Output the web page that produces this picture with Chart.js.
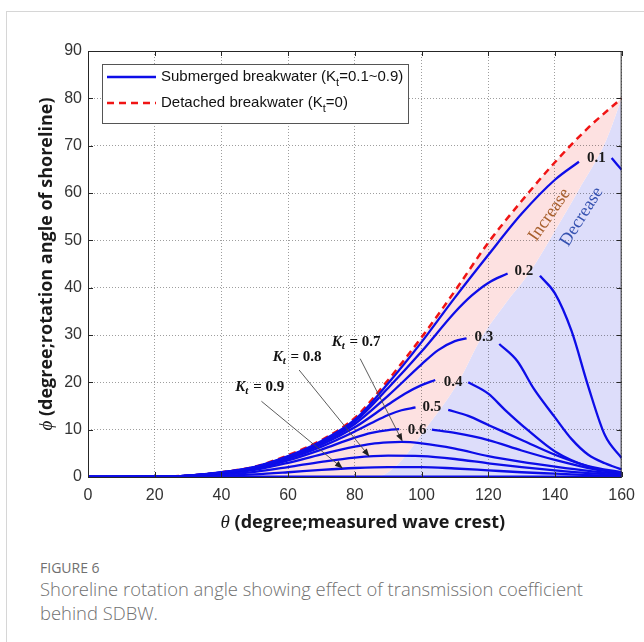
<!DOCTYPE html>
<html>
<head>
<meta charset="utf-8">
<title>Shoreline rotation angle</title>
<script src="https://cdn.jsdelivr.net/npm/chart.js@4.4.1/dist/chart.umd.min.js"></script>
<style>
  body { margin: 0; background: #fff; }
  #card { position: absolute; left: 6px; top: 11px; width: 650px; height: 650px;
          border-left: 1px solid #d6d6d6; border-top: 1px solid #d6d6d6; }
  #wrap { position: absolute; left: 0; top: 0; width: 644px; height: 545px; }
  .cap { position: absolute; left: 40px; font-family: "Open Sans", sans-serif; color: #707070; }
  #figno { top: 558px; font-size: 14px; }
  #captext { top: 577px; font-size: 18.4px; line-height: 24px; width: 565px; font-weight: 300; }
</style>
</head>
<body>
<div id="card"></div>
<div id="wrap"><canvas id="rotChart" width="644" height="545"></canvas></div>
<div class="cap" id="figno">FIGURE 6</div>
<div class="cap" id="captext">Shoreline rotation angle showing effect of transmission coefficient behind SDBW.</div>

<script>
// detached breakwater (Kt = 0)
const thetaKt0 = [0, 20, 30, 40, 50, 60, 70, 80, 90, 100, 110, 120, 130, 140, 150, 160];
const phiKt0   = [0, 0.05, 0.3, 1.0, 2.2, 4.6, 7.8, 12.5, 20.5, 29.5, 39.3, 49.5, 58.3, 66.5, 73.8, 80.0];

// submerged breakwater, one pair per Kt (null = break for the inline label)
const thetaKt01 = [0, 20, 30, 40, 50, 60, 70, 80, 90, 100, 110, 120, 130, 140, 147.2, 152.4, 157, 160];
const phiKt01   = [0, 0.05, 0.3, 1.0, 2.15, 4.4, 7.6, 12.1, 19.8, 28.5, 37.9, 46.9, 55.6, 62.8, 66.6, null, 67.4, 64.9];

const thetaKt02 = [0, 20, 30, 40, 50, 60, 70, 80, 90, 100, 110, 115, 120, 125.8, 130.7, 135.5, 140, 145, 150, 155, 160];
const phiKt02   = [0, 0.05, 0.3, 1.0, 2.1, 4.3, 7.4, 11.7, 18.8, 26.5, 34.8, 38.3, 41.0, 43.0, null, 42.5, 38.8, 30.8, 19.1, 8.8, 4.0];

const thetaKt03 = [0, 20, 30, 40, 50, 60, 70, 80, 90, 100, 105, 110, 113.5, 118.7, 123.3, 128.7, 133.7, 140, 145, 150, 155, 160];
const phiKt03   = [0, 0.05, 0.28, 0.95, 2.05, 4.2, 7.1, 11.2, 17.2, 23.8, 26.8, 28.7, 29.3, null, 28.1, 24.5, 18.6, 12.6, 8.0, 4.7, 2.9, 1.6];

const thetaKt04 = [0, 20, 30, 40, 50, 60, 70, 80, 90, 95, 100, 104.1, 109.5, 114, 120, 125, 131.7, 140, 150, 160];
const phiKt04   = [0, 0.05, 0.27, 0.9, 1.95, 4.0, 6.8, 10.5, 15.3, 17.6, 19.4, 20.5, null, 20.0, 17.6, 14.2, 10.0, 5.4, 2.2, 0.8];

const thetaKt05 = [0, 20, 30, 40, 50, 60, 70, 80, 85, 90, 94, 98.2, 103.1, 108, 114, 120, 130.7, 140, 150, 160];
const phiKt05   = [0, 0.04, 0.25, 0.85, 1.85, 3.8, 6.4, 9.6, 11.4, 13.1, 14.1, 14.7, null, 14.2, 12.9, 11.0, 7.6, 4.7, 2.3, 1.0];

const thetaKt06 = [0, 20, 30, 40, 50, 60, 70, 80, 85, 90, 93.3, 98.7, 103.1, 110, 120, 130, 140, 150, 160];
const phiKt06   = [0, 0.04, 0.23, 0.8, 1.7, 3.5, 5.8, 8.3, 9.3, 9.9, 10.1, null, 10.0, 9.3, 7.8, 5.6, 3.6, 1.9, 0.8];

const thetaKt07 = [0, 20, 30, 40, 50, 60, 70, 80, 85, 90, 94, 100, 110, 120, 130, 140, 150, 160];
const phiKt07   = [0, 0.03, 0.2, 0.7, 1.5, 3.0, 4.8, 6.4, 7.0, 7.3, 7.4, 7.1, 6.0, 4.4, 3.2, 2.2, 1.3, 0.6];

const thetaKt08 = [0, 20, 30, 40, 50, 60, 70, 80, 90, 100, 110, 120, 130, 140, 150, 160];
const phiKt08   = [0, 0.02, 0.15, 0.5, 1.1, 2.1, 3.2, 4.1, 4.5, 4.4, 3.8, 2.9, 2.1, 1.4, 0.8, 0.4];

const thetaKt09 = [0, 20, 30, 40, 50, 60, 70, 80, 90, 100, 110, 120, 130, 140, 150, 160];
const phiKt09   = [0, 0.01, 0.08, 0.25, 0.55, 1.0, 1.5, 1.9, 2.1, 2.1, 1.8, 1.4, 1.0, 0.7, 0.4, 0.2];

const thetaKt10 = [0, 160];
const phiKt10   = [0, 0];

// edge between the "Increase" and "Decrease" zones
const thetaEdge = [0, 86, 92, 101, 111, 118, 125, 132.7, 140, 147, 155.4, 160];
const phiEdge   = [0, 0, 2.1, 10, 20, 29.5, 36.5, 43.5, 52, 60.5, 71.2, 80];

const xTicks = [0, 20, 40, 60, 80, 100, 120, 140, 160];
const yTicks = [0, 10, 20, 30, 40, 50, 60, 70, 80, 90];

// inline curve labels
const curveTags  = ['0.1', '0.2', '0.3', '0.4', '0.5', '0.6'];
const curveTagAt = [[152.4, 67.3], [130.7, 43.5], [118.7, 29.5], [109.5, 20.1], [103.1, 14.8], [98.7, 10.0]];

// Kt call-outs with arrows
const ktNotes = [
  { kt: '0.7', at: [80.4, 28.4], from: [81.6, 25.0], to: [94.3, 7.5] },
  { kt: '0.8', at: [62.7, 25.3], from: [63.3, 22.6], to: [84.4, 4.3] },
  { kt: '0.9', at: [51.5, 19.0], from: [52.0, 16.0], to: [76.4, 1.8] }
];

const BLUE = '#0d0de8';
const RED = '#f01414';

function pts(th, ph) {
  return th.map((t, i) => ({ x: t, y: ph[i] }));
}

function blueLine(th, ph, w) {
  return {
    data: pts(th, ph),
    borderColor: BLUE,
    borderWidth: w || 2.3,
    pointRadius: 0,
    fill: false,
    cubicInterpolationMode: 'monotone',
    spanGaps: false
  };
}

const datasets = [
  blueLine(thetaKt10, phiKt10, 3),
  blueLine(thetaKt01, phiKt01),
  blueLine(thetaKt02, phiKt02),
  blueLine(thetaKt03, phiKt03),
  blueLine(thetaKt04, phiKt04),
  blueLine(thetaKt05, phiKt05),
  blueLine(thetaKt06, phiKt06),
  blueLine(thetaKt07, phiKt07),
  blueLine(thetaKt08, phiKt08),
  blueLine(thetaKt09, phiKt09),
  {
    data: pts(thetaKt0, phiKt0),
    borderColor: RED,
    borderWidth: 2.5,
    borderDash: [7, 5],
    pointRadius: 0,
    fill: false,
    cubicInterpolationMode: 'monotone'
  },
  // pink band: envelope down to the edge
  {
    data: pts(thetaKt0, phiKt0),
    borderWidth: 0,
    pointRadius: 0,
    backgroundColor: 'rgb(253,225,225)',
    fill: '+1',
    cubicInterpolationMode: 'monotone'
  },
  // lavender zone under the edge
  {
    data: pts(thetaEdge, phiEdge),
    borderWidth: 0,
    pointRadius: 0,
    backgroundColor: 'rgb(221,221,250)',
    fill: 'origin',
    cubicInterpolationMode: 'monotone'
  }
];

function arrow(ctx, x1, y1, x2, y2) {
  const a = Math.atan2(y2 - y1, x2 - x1);
  ctx.beginPath();
  ctx.moveTo(x1, y1);
  ctx.lineTo(x2 - 6 * Math.cos(a), y2 - 6 * Math.sin(a));
  ctx.stroke();
  ctx.beginPath();
  ctx.moveTo(x2, y2);
  ctx.lineTo(x2 - 8 * Math.cos(a) + 3 * Math.sin(a), y2 - 8 * Math.sin(a) - 3 * Math.cos(a));
  ctx.lineTo(x2 - 8 * Math.cos(a) - 3 * Math.sin(a), y2 - 8 * Math.sin(a) + 3 * Math.cos(a));
  ctx.closePath();
  ctx.fill();
}

const decor = {
  id: 'decor',
  afterDatasetsDraw(chart) {
    const ctx = chart.ctx;
    const a = chart.chartArea;
    const xs = chart.scales.x, ys = chart.scales.y;
    const X = v => xs.getPixelForValue(v);
    const Y = v => ys.getPixelForValue(v);
    ctx.save();

    // zone captions
    ctx.font = '18px "Liberation Serif", serif';
    ctx.textAlign = 'center';
    ctx.textBaseline = 'middle';
    ctx.save();
    ctx.translate(X(138.4), Y(55.4));
    ctx.rotate(-55 * Math.PI / 180);
    ctx.fillStyle = '#a8602e';
    ctx.fillText('Increase', 0, 0);
    ctx.restore();
    ctx.save();
    ctx.translate(X(148), Y(55));
    ctx.rotate(-58 * Math.PI / 180);
    ctx.fillStyle = '#3551b0';
    ctx.fillText('Decrease', 0, 0);
    ctx.restore();

    // inline curve labels
    ctx.font = 'bold 15px "Liberation Serif", serif';
    ctx.fillStyle = '#1a1a1a';
    curveTags.forEach((t, i) => {
      ctx.fillText(t, X(curveTagAt[i][0]), Y(curveTagAt[i][1]));
    });

    // Kt call-outs
    ktNotes.forEach(n => {
      ctx.strokeStyle = '#4a4a4a';
      ctx.fillStyle = '#222';
      ctx.lineWidth = 0.9;
      arrow(ctx, X(n.from[0]), Y(n.from[1]), X(n.to[0]), Y(n.to[1]));
      const fK = 'italic bold 15px "Liberation Serif", serif';
      const fT = 'italic bold 11px "Liberation Serif", serif';
      const fR = 'bold 15px "Liberation Serif", serif';
      const rest = ' = ' + n.kt;
      ctx.font = fK; const wK = ctx.measureText('K').width;
      ctx.font = fT; const wT = ctx.measureText('t').width + 1;
      ctx.font = fR; const wR = ctx.measureText(rest).width;
      const x0 = X(n.at[0]) - (wK + wT + wR) / 2;
      const y0 = Y(n.at[1]);
      ctx.textAlign = 'left';
      ctx.fillStyle = '#111';
      ctx.font = fK; ctx.fillText('K', x0, y0);
      ctx.font = fT; ctx.fillText('t', x0 + wK, y0 + 4);
      ctx.font = fR; ctx.fillText(rest, x0 + wK + wT, y0);
      ctx.textAlign = 'center';
    });

    // axes box with inward ticks
    ctx.strokeStyle = '#262626';
    ctx.lineWidth = 1;
    ctx.setLineDash([]);
    ctx.strokeRect(a.left + 0.5, a.top + 0.5, a.right - a.left - 1, a.bottom - a.top);
    ctx.beginPath();
    xTicks.forEach(v => {
      const x = Math.round(X(v)) + 0.5;
      ctx.moveTo(x, a.top); ctx.lineTo(x, a.top + 5);
      ctx.moveTo(x, a.bottom); ctx.lineTo(x, a.bottom - 5);
    });
    yTicks.forEach(v => {
      const y = Math.round(Y(v)) + 0.5;
      ctx.moveTo(a.left, y); ctx.lineTo(a.left + 5, y);
      ctx.moveTo(a.right, y); ctx.lineTo(a.right - 5, y);
    });
    ctx.stroke();

    // legend
    const lx = a.left + 14, ly = a.top + 13, lw = 306, lh = 59;
    ctx.fillStyle = '#fff';
    ctx.fillRect(lx, ly, lw, lh);
    ctx.strokeStyle = '#555';
    ctx.strokeRect(lx + 0.5, ly + 0.5, lw, lh);
    const rows = [
      { color: BLUE, dash: [], pre: 'Submerged breakwater (K', post: '=0.1~0.9)' },
      { color: RED, dash: [7, 5], pre: 'Detached breakwater (K', post: '=0)' }
    ];
    rows.forEach((r, i) => {
      const cy = ly + 13 + i * 26;
      ctx.strokeStyle = r.color;
      ctx.lineWidth = 2.3;
      ctx.setLineDash(r.dash);
      ctx.beginPath();
      ctx.moveTo(lx + 5, cy); ctx.lineTo(lx + 54, cy);
      ctx.stroke();
      ctx.setLineDash([]);
      ctx.fillStyle = '#111';
      ctx.textAlign = 'left';
      ctx.font = '15px "Liberation Sans", Arial, sans-serif';
      const tx = lx + 59;
      ctx.fillText(r.pre, tx, cy);
      const w1 = ctx.measureText(r.pre).width;
      ctx.font = '11px "Liberation Sans", Arial, sans-serif';
      ctx.fillText('t', tx + w1, cy + 6);
      const w2 = ctx.measureText('t').width;
      ctx.font = '15px "Liberation Sans", Arial, sans-serif';
      ctx.fillText(r.post, tx + w1 + w2, cy);
    });

    // axis titles
    ctx.fillStyle = '#1a1a1a';
    const tb = 'bold 18px "Open Sans", sans-serif';
    const ts = 'italic 19px "Liberation Serif", serif';
    const xt = ' (degree;measured wave crest)';
    ctx.font = ts; const wth = ctx.measureText('\u03b8').width;
    ctx.font = tb; const wxt = ctx.measureText(xt).width;
    const sx = (a.left + a.right) / 2 + 8 - (wth + wxt) / 2;
    const sy = a.bottom + 46;
    ctx.textAlign = 'left';
    ctx.font = ts; ctx.fillText('\u03b8', sx, sy);
    ctx.font = tb; ctx.fillText(xt, sx + wth, sy);

    const yt = ' (degree;rotation angle of shoreline)';
    ctx.save();
    ctx.translate(a.left - 41, (a.top + a.bottom) / 2);
    ctx.rotate(-Math.PI / 2);
    ctx.font = ts; const wph = ctx.measureText('\u03d5').width;
    ctx.font = tb; const wyt = ctx.measureText(yt).width;
    const s0 = -(wph + wyt) / 2;
    ctx.font = ts; ctx.fillText('\u03d5', s0, 0);
    ctx.font = tb; ctx.fillText(yt, s0 + wph, 0);
    ctx.restore();

    ctx.restore();
  }
};

const tickFont = { family: '"Liberation Sans", Arial, sans-serif', size: 16 };

new Chart(document.getElementById('rotChart'), {
  type: 'line',
  data: { datasets: datasets },
  options: {
    responsive: false,
    animation: false,
    layout: { padding: { left: 0, right: 15, top: 51, bottom: 0 } },
    plugins: {
      legend: { display: false },
      tooltip: { enabled: false },
      filler: { drawTime: 'beforeDraw' }
    },
    scales: {
      x: {
        type: 'linear',
        min: 0,
        max: 160,
        afterFit: s => { s.height = 68; },
        afterBuildTicks: s => { s.ticks = xTicks.map(v => ({ value: v })); },
        ticks: { font: tickFont, color: '#333', padding: 9, maxRotation: 0 },
        grid: { color: 'rgba(0,0,0,0.38)', drawTicks: false, lineWidth: 1 },
        border: { display: false, dash: [1, 2] }
      },
      y: {
        type: 'linear',
        min: 0,
        max: 90,
        afterFit: s => { s.width = 88; },
        afterBuildTicks: s => { s.ticks = yTicks.map(v => ({ value: v })); },
        ticks: { font: tickFont, color: '#333', padding: 6 },
        grid: { color: 'rgba(0,0,0,0.38)', drawTicks: false, lineWidth: 1 },
        border: { display: false, dash: [1, 2] }
      }
    }
  },
  plugins: [decor]
});
</script>
</body>
</html>
